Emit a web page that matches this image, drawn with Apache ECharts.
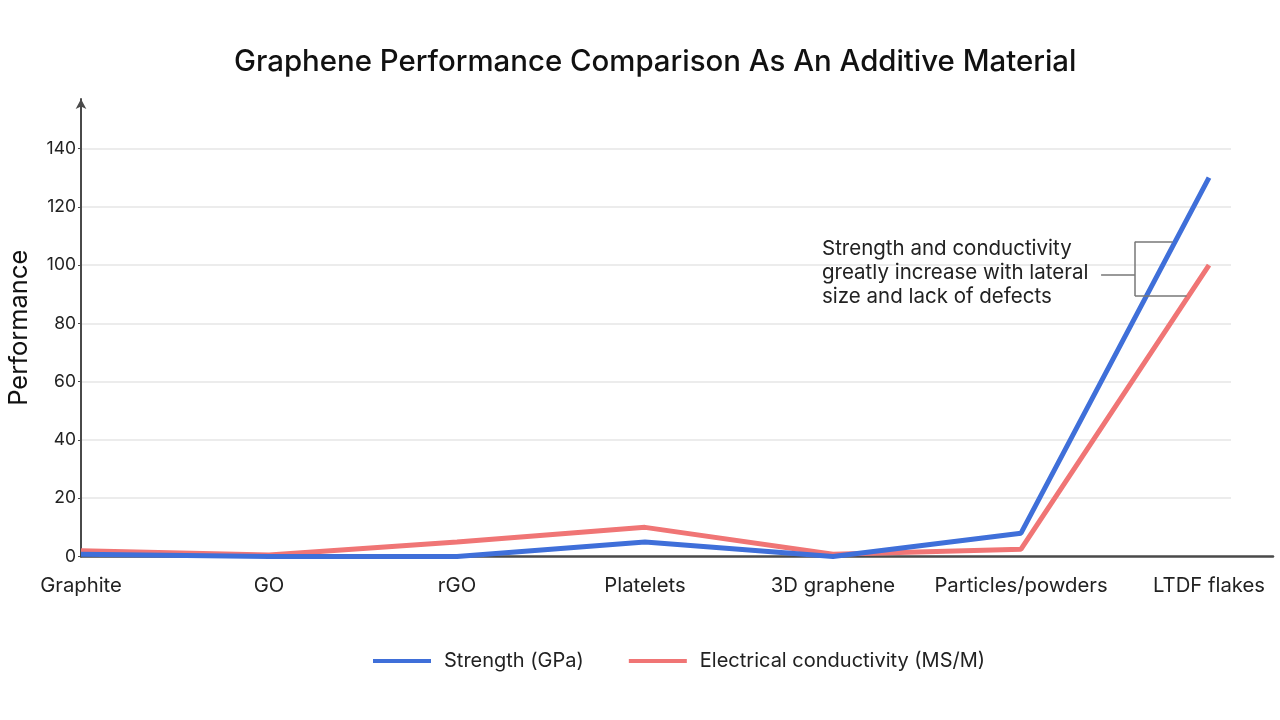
<!DOCTYPE html>
<html>
<head>
<meta charset="utf-8">
<script src="https://cdn.jsdelivr.net/npm/echarts@6/dist/echarts.min.js"></script>
<style>html,body{margin:0;padding:0;background:#fff}#c{width:1280px;height:720px}</style>
</head>
<body>
<div id="c"></div>
<script>
var categories = ['Graphite', 'GO', 'rGO', 'Platelets', '3D graphene', 'Particles/powders', 'LTDF flakes'];
var strength = [0.8, 0, 0, 5, 0, 8, 130];
var conductivity = [2, 0.5, 5, 10, 0.8, 2.5, 100];
var yTicks = [0, 20, 40, 60, 80, 100, 120, 140];
var annotationLines = ['Strength and conductivity', 'greatly increase with lateral', 'size and lack of defects'];
// bracket segments in data units [x index, value]
var bracket = [
  [[5.426, 96.6], [5.606, 96.6]],
  [[5.606, 108], [5.606, 89.4]],
  [[5.606, 108], [5.807, 108]],
  [[5.606, 89.4], [5.881, 89.4]]
];

var FONT = 'Inter, "Noto Sans", sans-serif';
var chart = echarts.init(document.getElementById('c'));
var xmax = 6.117;
chart.setOption({
  backgroundColor: '#fff',
  animation: false,
  title: {
    text: 'Graphene Performance Comparison As An Additive Material',
    left: 229, top: 43,
    textStyle: { fontFamily: FONT, fontSize: 29.4, fontWeight: 500, color: '#111' }
  },
  legend: {
    bottom: 44, left: 368, icon: 'rect',
    itemWidth: 58, itemHeight: 4, itemGap: 45,
    textStyle: { fontFamily: FONT, fontSize: 20, color: '#222', padding: [0, 0, 0, 8] },
    data: ['Strength (GPa)', 'Electrical conductivity (MS/M)']
  },
  grid: [
    { left: 81, right: 49, top: 99, bottom: 163.5, outerBoundsMode: 'none', containLabel: false },
    { left: 81, right: 7, top: 99, bottom: 163.5, outerBoundsMode: 'none', containLabel: false }
  ],
  xAxis: [
    {
      type: 'value', gridIndex: 0, min: 0, max: xmax, interval: 1,
      axisLine: { show: false },
      axisTick: { show: false },
      splitLine: { show: false },
      axisLabel: {
        margin: 19, fontFamily: FONT, fontSize: 20.3, color: '#222',
        showMaxLabel: false,
        formatter: function (v) { return Number.isInteger(v) ? categories[v] : ''; }
      }
    },
    {
      type: 'value', gridIndex: 1, min: 0, max: 1,
      axisLine: { show: true, lineStyle: { color: '#4a4a4a', width: 2.5 } },
      axisTick: { show: false }, axisLabel: { show: false }, splitLine: { show: false }
    }
  ],
  yAxis: [
    {
      type: 'value', gridIndex: 0, min: 0, max: 157, interval: 20,
      name: 'Performance', nameLocation: 'middle', nameGap: 49,
      nameTextStyle: { fontFamily: FONT, fontSize: 25.5, color: '#111' },
      axisLine: { show: true, symbol: ['none', 'arrow'], symbolSize: [8, 10], lineStyle: { color: '#4a4a4a', width: 2 } },
      axisTick: { show: true, length: 3, lineStyle: { color: '#4a4a4a' } },
      axisLabel: {
        margin: 5, fontFamily: FONT, fontSize: 17.5, color: '#222', showMaxLabel: false,
        formatter: function (v) { return yTicks.indexOf(v) >= 0 ? String(v) : ''; }
      },
      splitLine: { show: true, showMinLine: false, showMaxLine: false, lineStyle: { color: '#e6e6e6', width: 1.5 } }
    },
    {
      type: 'value', gridIndex: 1, min: 0, max: 1, show: false
    }
  ],
  graphic: [{
    type: 'text', left: 822, top: 237, z: 10,
    style: {
      text: annotationLines.join('\n'),
      font: '20.5px ' + FONT, fill: '#222', lineHeight: 24
    }
  }],
  series: [
    {
      name: 'Strength (GPa)', type: 'line', xAxisIndex: 0, yAxisIndex: 0,
      data: strength.map(function (v, i) { return [i, v]; }),
      symbol: 'none', lineStyle: { color: '#3f6fd9', width: 5 }, itemStyle: { color: '#3f6fd9' }, z: 3,
      markLine: {
        silent: true, symbol: 'none', label: { show: false },
        lineStyle: { color: '#777', width: 1.5, type: 'solid' },
        data: bracket.map(function (s) { return [{ coord: s[0] }, { coord: s[1] }]; })
      }
    },
    {
      name: 'Electrical conductivity (MS/M)', type: 'line', xAxisIndex: 0, yAxisIndex: 0,
      data: conductivity.map(function (v, i) { return [i, v]; }),
      symbol: 'none', lineStyle: { color: '#f07575', width: 5 }, itemStyle: { color: '#f07575' }, z: 2
    }
  ]
});
</script>
</body>
</html>
